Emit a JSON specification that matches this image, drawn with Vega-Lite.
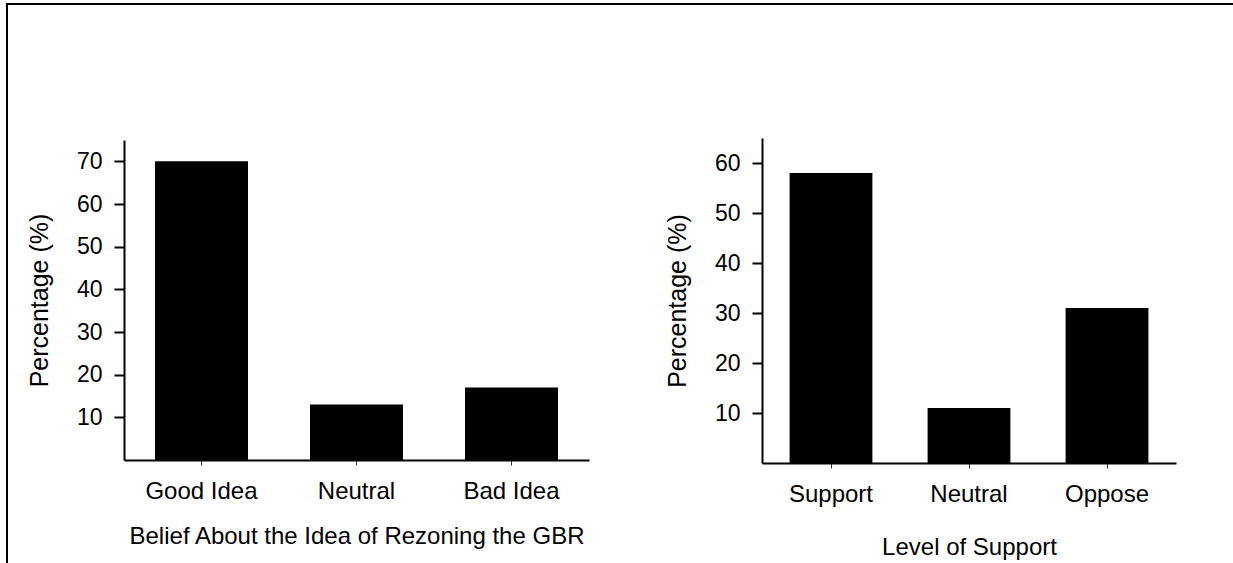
{
  "$schema": "https://vega.github.io/schema/vega-lite/v6.json",
  "width": 1226,
  "height": 559,
  "padding": {"left": 7, "top": 4, "right": 0, "bottom": 0},
  "autosize": {"type": "none"},
  "background": "white",
  "config": {
    "view": {"stroke": "#000", "strokeWidth": 2, "strokeDash": [1226, 1785]},
    "axis": {
      "domainColor": "#000",
      "domainWidth": 2,
      "labelColor": "#000",
      "labelFont": "Liberation Sans",
      "titleFont": "Liberation Sans",
      "titleFontWeight": "normal",
      "titleColor": "#000",
      "grid": false
    }
  },
  "data": {
    "values": [
      {"panel": "A", "category": "Good Idea", "percentage": 70},
      {"panel": "A", "category": "Neutral", "percentage": 13},
      {"panel": "A", "category": "Bad Idea", "percentage": 17},
      {"panel": "B", "category": "Support", "percentage": 58},
      {"panel": "B", "category": "Neutral", "percentage": 11},
      {"panel": "B", "category": "Oppose", "percentage": 31}
    ]
  },
  "layer": [
    {
      "transform": [{"filter": "datum.panel === 'A'"}],
      "mark": {"type": "bar", "color": "#000"},
      "encoding": {
        "x": {
          "field": "category", "type": "nominal",
          "sort": ["Good Idea", "Neutral", "Bad Idea"],
          "scale": {"range": [117, 582], "paddingInner": 0.4, "paddingOuter": 0.2},
          "axis": {"orient": "bottom", "offset": -103, "title": "Belief About the Idea of Rezoning the GBR",
                   "labelAngle": 0, "tickSize": 5, "tickWidth": 1, "tickColor": "#333",
                   "labelFontSize": 24, "labelPadding": 14, "titleFontSize": 24, "titlePadding": 21}
        },
        "y": {
          "field": "percentage", "type": "quantitative",
          "scale": {"domain": [0, 75], "range": [456, 136], "nice": false},
          "axis": {"orient": "left", "offset": -117, "values": [10, 20, 30, 40, 50, 60, 70], "title": "Percentage (%)",
                   "tickSize": 10, "tickWidth": 2, "tickColor": "#000",
                   "labelFontSize": 23, "labelPadding": 12, "titleFontSize": 25, "titlePadding": 24}
        }
      }
    },
    {
      "transform": [{"filter": "datum.panel === 'B'"}],
      "mark": {"type": "bar", "color": "#000"},
      "encoding": {
        "x": {
          "field": "category", "type": "nominal",
          "sort": ["Support", "Neutral", "Oppose"],
          "scale": {"range": [755, 1169], "paddingInner": 0.4, "paddingOuter": 0.2},
          "axis": {"orient": "bottom", "offset": -100, "title": "Level of Support",
                   "labelAngle": 0, "tickSize": 5, "tickWidth": 1, "tickColor": "#333",
                   "labelFontSize": 24, "labelPadding": 14, "titleFontSize": 24, "titlePadding": 29}
        },
        "y": {
          "field": "percentage", "type": "quantitative",
          "scale": {"domain": [0, 65], "range": [459, 134], "nice": false},
          "axis": {"orient": "left", "offset": -755, "values": [10, 20, 30, 40, 50, 60], "title": "Percentage (%)",
                   "tickSize": 10, "tickWidth": 2, "tickColor": "#000",
                   "labelFontSize": 23, "labelPadding": 12, "titleFontSize": 25, "titlePadding": 24}
        }
      }
    }
  ],
  "resolve": {
    "scale": {"x": "independent", "y": "independent"},
    "axis": {"x": "independent", "y": "independent"}
  }
}
